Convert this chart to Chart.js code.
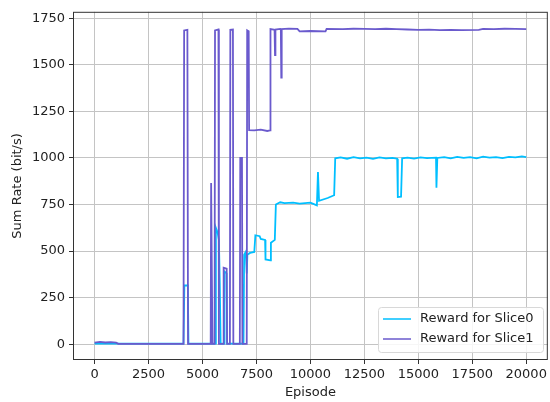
<!DOCTYPE html>
<html>
<head>
<meta charset="utf-8">
<script src="https://cdn.jsdelivr.net/npm/chart.js@4.4.0/dist/chart.umd.min.js"></script>
<style>
  html, body { margin: 0; padding: 0; background: #fff; }
  canvas { display: block; }
</style>
</head>
<body>
<canvas id="rewardChart" width="550" height="402"></canvas>
<script>
// values
const seriesLabels = ['Reward for Slice0', 'Reward for Slice1'];

const slice0Episodes = [0, 1000, 2000, 3000, 4120, 4160, 4320, 4350, 5600, 5620, 5700, 5760, 5800, 5840,
  6000, 6020, 6120, 6140, 6900, 6930, 7000, 7050, 7080, 7200, 7400, 7450, 7650, 7700, 7900, 7920, 8150,
  8170, 8350, 8400, 8600, 8800, 9200, 9500, 10000, 10300, 10350, 10400, 10800, 11100, 11150, 11400,
  11700, 12000, 12300, 12600, 12900, 13200, 13500, 13800, 14020, 14050, 14200, 14250, 14500, 14800,
  15100, 15400, 15820, 15840, 15880, 16200, 16500, 16800, 17100, 17400, 17700, 18000, 18300, 18600,
  18900, 19200, 19500, 19800, 20000];
const slice0Values = [3, 3, 3, 3, 3, 315, 315, 3, 3, 625, 600, 560, 330, 3,
  3, 390, 380, 3, 3, 480, 495, 380, 480, 490, 495, 585, 580, 565, 560, 455, 450,
  545, 560, 750, 762, 758, 760, 755, 760, 745, 925, 770, 785, 800, 998, 1003,
  996, 1004, 998, 1002, 995, 1003, 998, 1001, 996, 790, 792, 998, 1002, 997,
  1003, 999, 1002, 840, 1000, 1004, 998, 1006, 1001, 1005, 998, 1007, 1002, 1005,
  999, 1006, 1003, 1008, 1005];

const slice1Episodes = [0, 250, 500, 750, 1000, 1100, 2000, 3000, 4120, 4150, 4300, 4330, 5380, 5400,
  5440, 5460, 5560, 5580, 5740, 5760, 5960, 5980, 6120, 6140, 6270, 6290, 6410, 6430, 6730, 6750, 6830,
  6850, 7050, 7070, 7140, 7160, 7400, 7700, 8000, 8130, 8150, 8300, 8340, 8360, 8380, 8600, 8630, 8650,
  8670, 9000, 9400, 9500, 10000, 10700, 10750, 11500, 12000, 12500, 13000, 13500, 14000, 14500, 15000,
  15500, 16000, 16500, 17000, 17800, 18000, 18500, 19000, 19500, 20000];
const slice1Values = [8, 12, 9, 11, 8, 2, 2, 2, 2, 1685, 1688, 2, 2, 865,
  865, 2, 2, 1685, 1690, 2, 2, 410, 405, 2, 2, 1688, 1690, 2, 2, 1000, 1000,
  2, 2, 1685, 1680, 1150, 1148, 1152, 1145, 1148, 1692, 1690, 1685, 1553, 1690, 1693, 1690, 1431,
  1692, 1695, 1693, 1680, 1682, 1680, 1693, 1692, 1694, 1693, 1692, 1694, 1692, 1690, 1688,
  1689, 1687, 1688, 1687, 1688, 1693, 1692, 1694, 1693, 1692];

const xTicks = [0, 2500, 5000, 7500, 10000, 12500, 15000, 17500, 20000];
const yTicks = [0, 250, 500, 750, 1000, 1250, 1500, 1750];

const colors = ['#00bfff', '#6a5acd'];

function toPoints(xs, ys) {
  return xs.map((x, i) => ({ x: x, y: ys[i] }));
}

const frameAndLegend = {
  id: 'frameAndLegend',
  afterDraw(chart) {
    const ctx = chart.ctx;
    const a = chart.chartArea;
    ctx.save();
    ctx.strokeStyle = '#333';
    ctx.lineWidth = 1;
    ctx.strokeRect(a.left + 0.5, a.top + 0.5, a.right - a.left - 1, a.bottom - a.top - 1);

    // legend box, lower right like matplotlib
    const bx = 378, by = 307, bw = 165, bh = 45;
    ctx.fillStyle = 'rgba(255,255,255,0.85)';
    ctx.strokeStyle = '#d8d8d8';
    ctx.beginPath();
    ctx.roundRect(bx + 0.5, by + 0.5, bw, bh, 3);
    ctx.fill();
    ctx.stroke();
    ctx.font = '13px "DejaVu Sans"';
    ctx.textBaseline = 'middle';
    seriesLabels.forEach((label, i) => {
      const y = by + 12 + i * 20;
      ctx.strokeStyle = colors[i];
      ctx.lineWidth = 1.5;
      ctx.beginPath();
      ctx.moveTo(bx + 5, y);
      ctx.lineTo(bx + 33, y);
      ctx.stroke();
      ctx.fillStyle = '#222';
      ctx.fillText(label, bx + 42, y);
    });
    ctx.restore();
  }
};

const ctx = document.getElementById('rewardChart').getContext('2d');
new Chart(ctx, {
  type: 'line',
  data: {
    datasets: [
      {
        label: seriesLabels[0],
        data: toPoints(slice0Episodes, slice0Values),
        borderColor: colors[0],
        borderWidth: 1.8,
        pointRadius: 0,
        tension: 0,
        fill: false,
        order: 1
      },
      {
        label: seriesLabels[1],
        data: toPoints(slice1Episodes, slice1Values),
        borderColor: colors[1],
        borderWidth: 1.8,
        pointRadius: 0,
        tension: 0,
        fill: false,
        order: 0
      }
    ]
  },
  options: {
    responsive: false,
    animation: false,
    devicePixelRatio: 1,
    layout: { padding: { top: 7, right: 2, left: 0, bottom: 0 } },
    plugins: {
      legend: { display: false },
      tooltip: { enabled: false }
    },
    scales: {
      x: {
        type: 'linear',
        min: -1000,
        max: 21000,
        afterBuildTicks: scale => { scale.ticks = xTicks.map(v => ({ value: v })); },
        afterFit: scale => { scale.height = 42; },
        grid: { color: '#c4c4c4', lineWidth: 1, tickLength: 4, tickColor: '#333', drawTicks: true },
        border: { display: false },
        ticks: { color: '#222', font: { family: 'DejaVu Sans', size: 13 }, padding: 3, maxRotation: 0,
          callback: v => String(v) },
        title: { display: true, text: 'Episode', color: '#222', font: { family: 'DejaVu Sans', size: 13 }, padding: { top: 0, bottom: 2 } }
      },
      y: {
        type: 'linear',
        min: -85,
        max: 1785,
        afterBuildTicks: scale => { scale.ticks = yTicks.map(v => ({ value: v })); },
        afterFit: scale => { scale.width = 73; },
        grid: { color: '#c4c4c4', lineWidth: 1, tickLength: 4, tickColor: '#333', drawTicks: true },
        border: { display: false },
        ticks: { color: '#222', font: { family: 'DejaVu Sans', size: 13 }, padding: 4,
          callback: v => String(v) },
        title: { display: true, text: 'Sum Rate (bit/s)', color: '#222', font: { family: 'DejaVu Sans', size: 13 }, padding: { top: 10, bottom: 2 } }
      }
    }
  },
  plugins: [frameAndLegend]
});
</script>
</body>
</html>
